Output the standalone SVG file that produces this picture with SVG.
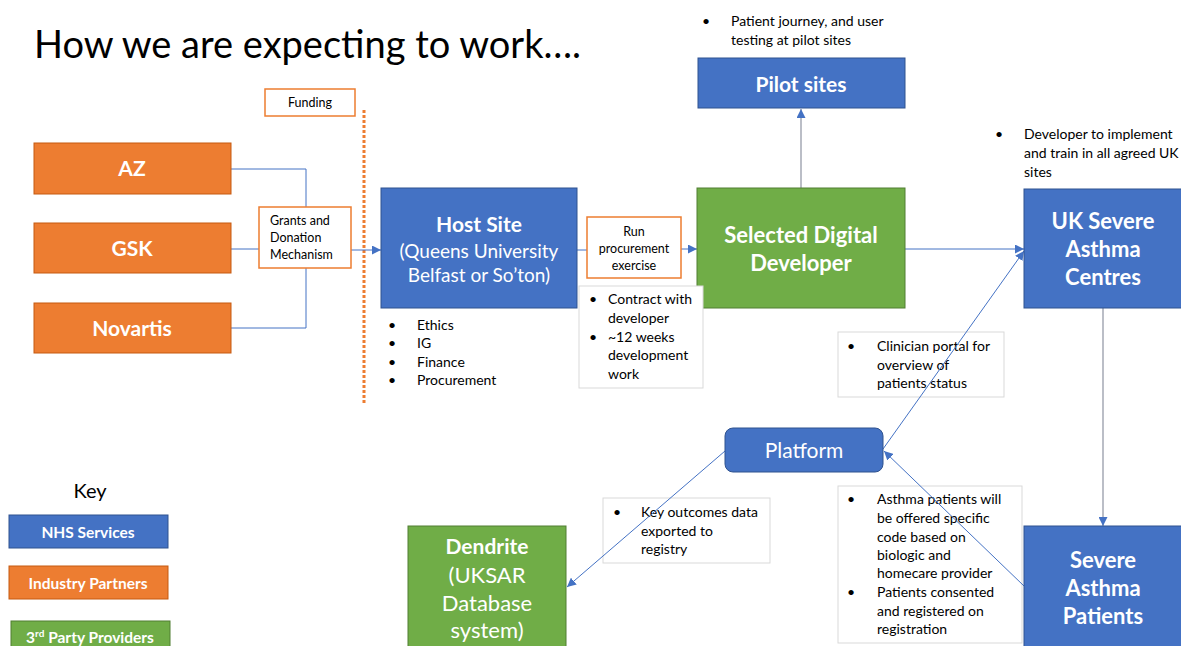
<svg xmlns="http://www.w3.org/2000/svg" width="1181" height="646" viewBox="0 0 1181 646">
<defs>
<style>
text{font-family:Lato,"Open Sans","Liberation Sans",sans-serif;}
.blue{fill:#4472C4;stroke:#2F528F;stroke-width:1}
.orange{fill:#ED7D31;stroke:#C55A11;stroke-width:1}
.green{fill:#70AD47;stroke:#507E32;stroke-width:1}
.obox{fill:#fff;stroke:#ED7D31;stroke-width:1.5}
.note{fill:#fff;stroke:#D9D9D9;stroke-width:1}
.wb{fill:#fff;font-weight:bold;text-anchor:middle}
.wr{fill:#fff;text-anchor:middle}
.t{fill:#000;font-size:14px}
.s{fill:#000;font-size:12.5px;text-anchor:middle}
.sl{fill:#000;font-size:12.5px}
.c{fill:none;stroke:#4472C4;stroke-width:1}
.g{fill:none;stroke:#A5A9B4;stroke-width:1.5}
</style>
<marker id="ah" viewBox="0 0 10 10" refX="10" refY="5" markerWidth="9" markerHeight="9" markerUnits="userSpaceOnUse" orient="auto">
<path d="M0,0 L10,5 L0,10 z" fill="#4472C4"/>
</marker>
</defs>
<rect width="1181" height="646" fill="#fff"/>
<text x="34" y="58" font-size="38" fill="#000">How we are expecting to work….</text>

<g id="funding"><rect class="obox" x="265" y="89" width="90" height="27"/><text class="s" x="310" y="107">Funding</text></g>
<line x1="364" y1="110" x2="364" y2="403" stroke="#ED7D31" stroke-width="3" stroke-dasharray="3 2"/>

<g id="notes">
<g id="note-pilot"><text class="t" x="702" y="26">•</text><text class="t" x="731" y="26">Patient journey, and user</text><text class="t" x="731" y="45">testing at pilot sites</text></g>
<g id="note-uk"><text class="t" x="995" y="139">•</text><text class="t" x="1024" y="139">Developer to implement</text><text class="t" x="1024" y="158">and train in all agreed UK</text><text class="t" x="1024" y="177">sites</text></g>
<g id="note-host"><text class="t" x="388" y="330">•</text><text class="t" x="417" y="330">Ethics</text><text class="t" x="388" y="348">•</text><text class="t" x="417" y="348">IG</text><text class="t" x="388" y="367">•</text><text class="t" x="417" y="367">Finance</text><text class="t" x="388" y="385">•</text><text class="t" x="417" y="385">Procurement</text></g>
<g id="note-clinician"><rect class="note" x="838" y="332" width="166" height="65"/><text class="t" x="847" y="351">•</text><text class="t" x="877" y="351">Clinician portal for</text><text class="t" x="877" y="370">overview of</text><text class="t" x="877" y="388">patients status</text></g>
<g id="note-asthma"><rect class="note" x="838" y="486" width="184" height="157"/><text class="t" x="847" y="504">•</text><text class="t" x="877" y="504">Asthma patients will</text><text class="t" x="877" y="523">be offered specific</text><text class="t" x="877" y="542">code based on</text><text class="t" x="877" y="560">biologic and</text><text class="t" x="877" y="578">homecare provider</text><text class="t" x="847" y="597">•</text><text class="t" x="877" y="597">Patients consented</text><text class="t" x="877" y="616">and registered  on</text><text class="t" x="877" y="634">registration</text></g>
<g id="note-outcomes"><rect class="note" x="603" y="498" width="167" height="65"/><text class="t" x="613" y="517">•</text><text class="t" x="641" y="517">Key outcomes data</text><text class="t" x="641" y="536">exported to</text><text class="t" x="641" y="554">registry</text></g>
</g>

<g id="connectors">
<polyline class="c" points="231,169 306,169 306,207"/>
<line class="c" x1="231" y1="249" x2="259" y2="249"/>
<polyline class="c" points="231,328 306,328 306,268"/>
<line class="c" x1="351" y1="250" x2="381" y2="250" marker-end="url(#ah)"/>
<line class="c" x1="577" y1="250" x2="587" y2="250"/>
<line class="c" x1="681" y1="249" x2="697" y2="249" marker-end="url(#ah)"/>
<line class="g" x1="801" y1="188" x2="801" y2="109" marker-end="url(#ah)"/>
<line class="c" x1="905" y1="249" x2="1024" y2="249" marker-end="url(#ah)"/>
<line class="g" x1="1103" y1="308" x2="1103" y2="526" marker-end="url(#ah)"/>
<line class="c" x1="883" y1="449" x2="1024" y2="251" marker-end="url(#ah)" stroke="#8FAADC"/>
<line class="c" x1="1024" y1="586" x2="884" y2="451" marker-end="url(#ah)" stroke="#B4C7E7"/>
<line class="c" x1="725" y1="451" x2="567" y2="587" marker-end="url(#ah)" stroke="#8FAADC"/>
</g>

<g id="az"><rect class="orange" x="34" y="143" width="197" height="51"/><text class="wb" x="132" y="176" font-size="21">AZ</text></g>
<g id="gsk"><rect class="orange" x="34" y="223" width="197" height="50"/><text class="wb" x="132" y="256" font-size="21">GSK</text></g>
<g id="novartis"><rect class="orange" x="34" y="303" width="197" height="50"/><text class="wb" x="132" y="336" font-size="21">Novartis</text></g>
<g id="grants"><rect class="obox" x="259" y="207" width="92" height="61"/><text class="sl" x="270" y="225">Grants and</text><text class="sl" x="270" y="242">Donation</text><text class="sl" x="270" y="259">Mechanism</text></g>
<g id="host"><rect class="blue" x="381" y="188" width="196" height="120"/><text class="wb" x="479" y="232" font-size="21">Host Site</text><text class="wr" x="479" y="258" font-size="19">(Queens University</text><text class="wr" x="479" y="282" font-size="19">Belfast or So’ton)</text></g>
<g id="procure"><rect class="obox" x="587" y="217" width="94" height="61"/><text class="s" x="634" y="236">Run</text><text class="s" x="634" y="253">procurement</text><text class="s" x="634" y="270">exercise</text></g>
<g id="developer"><rect class="green" x="697" y="188" width="208" height="120"/><text class="wb" x="801" y="243" font-size="22">Selected Digital</text><text class="wb" x="801" y="271" font-size="22">Developer</text></g>
<g id="note-contract"><rect class="note" x="579" y="286" width="124" height="102"/><text class="t" x="589" y="304">•</text><text class="t" x="608" y="304">Contract with</text><text class="t" x="608" y="323">developer</text><text class="t" x="589" y="342">•</text><text class="t" x="608" y="342">~12 weeks</text><text class="t" x="608" y="360">development</text><text class="t" x="608" y="379">work</text></g>
<g id="pilot"><rect class="blue" x="698" y="58" width="207" height="50"/><text class="wb" x="801" y="92" font-size="21">Pilot sites</text></g>
<g id="ukcentres"><rect class="blue" x="1024" y="189" width="165" height="119"/><text class="wb" x="1103" y="229" font-size="22">UK Severe</text><text class="wb" x="1103" y="257" font-size="22">Asthma</text><text class="wb" x="1103" y="285" font-size="22">Centres</text></g>
<g id="patients"><rect class="blue" x="1024" y="526" width="165" height="130"/><text class="wb" x="1103" y="568" font-size="22">Severe</text><text class="wb" x="1103" y="596" font-size="22">Asthma</text><text class="wb" x="1103" y="624" font-size="22">Patients</text></g>
<g id="platform"><rect class="blue" x="725" y="428" width="158" height="44" rx="8"/><text class="wr" x="804" y="458" font-size="21">Platform</text></g>
<g id="dendrite"><rect class="green" x="408" y="526" width="158" height="130"/><text class="wb" x="487" y="554" font-size="21">Dendrite</text><text class="wr" x="487" y="583" font-size="22">(UKSAR</text><text class="wr" x="487" y="611" font-size="22">Database</text><text class="wr" x="487" y="638" font-size="22">system)</text></g>

<g id="key">
<text x="90" y="498" font-size="20" fill="#000" text-anchor="middle">Key</text>
<g id="key-nhs"><rect class="blue" x="9" y="515" width="159" height="33"/><text class="wb" x="88" y="538" font-size="15.5">NHS Services</text></g>
<g id="key-industry"><rect class="orange" x="9" y="566" width="159" height="33"/><text class="wb" x="88" y="589" font-size="15.5">Industry Partners</text></g>
<g id="key-third"><rect class="green" x="11" y="621" width="159" height="33"/><text class="wb" x="90" y="643" font-size="15.5">3<tspan font-size="10" dy="-6">rd</tspan><tspan dy="6"> Party Providers</tspan></text></g>
</g>
</svg>
